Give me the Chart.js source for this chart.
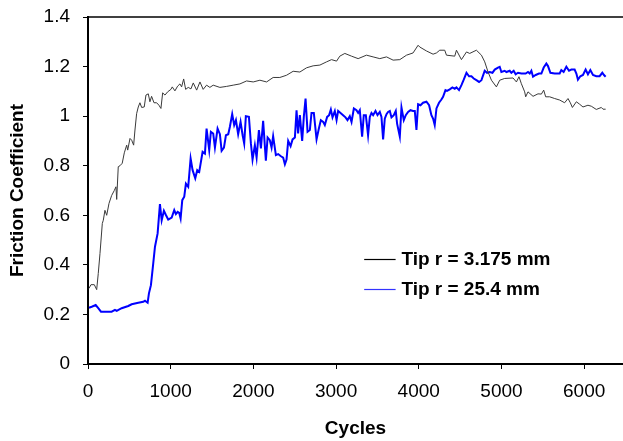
<!DOCTYPE html>
<html>
<head>
<meta charset="utf-8">
<title>Friction Coefficient vs Cycles</title>
<script src="https://cdn.jsdelivr.net/npm/chart.js@4/dist/chart.umd.min.js"></script>
<style>
  html, body { margin: 0; padding: 0; background: #ffffff; }
  #wrap { width: 623px; height: 441px; }
</style>
</head>
<body>
<div id="wrap"><canvas id="chart" width="623" height="441"></canvas></div>
<script>
// Tip radius 3.175 mm
const smallTipCycles = [12, 36, 76, 105, 124, 145, 173, 185, 205, 226, 254, 286, 318, 338, 347, 366, 387, 414, 439, 468,
  480, 508, 528, 552, 568, 588, 608, 628, 649, 680, 701, 729, 749, 769, 798, 830, 858, 882, 903, 931,
  963, 1003, 1019, 1051, 1084, 1112, 1132, 1157, 1181, 1212, 1245, 1273, 1314, 1354, 1393, 1434, 1474, 1514, 1595, 1676,
  1756, 1837, 1918, 1998, 2079, 2160, 2239, 2320, 2401, 2481, 2562, 2643, 2723, 2804, 2885, 2945, 3006, 3045, 3106, 3187,
  3267, 3368, 3448, 3529, 3610, 3690, 3771, 3852, 3931, 3992, 4012, 4093, 4173, 4214, 4254, 4314, 4335, 4435, 4456, 4516,
  4577, 4616, 4697, 4758, 4798, 4838, 4879, 4939, 4979, 5039, 5140, 5181, 5212, 5241, 5281, 5293, 5321, 5382, 5442, 5483,
  5511, 5535, 5583, 5644, 5704, 5764, 5805, 5833, 5858, 5906, 5946, 5986, 6046, 6087, 6147, 6208, 6228, 6260];
const smallTipFriction = [0.305, 0.32, 0.32, 0.30, 0.365, 0.446, 0.567, 0.58, 0.62, 0.60, 0.648, 0.68, 0.70, 0.715, 0.664, 0.796, 0.80, 0.81, 0.852, 0.883,
  0.863, 0.91, 0.903, 0.883, 0.944, 1.01, 1.037, 1.054, 1.035, 1.037, 1.085, 1.09, 1.058, 1.08, 1.054, 1.054, 1.044, 1.031, 1.094, 1.085,
  1.098, 1.108, 1.118, 1.102, 1.121, 1.13, 1.118, 1.15, 1.108, 1.116, 1.11, 1.134, 1.105, 1.138, 1.108, 1.125, 1.116, 1.125, 1.116, 1.12,
  1.125, 1.13, 1.142, 1.138, 1.145, 1.138, 1.156, 1.156, 1.165, 1.181, 1.178, 1.195, 1.203, 1.206, 1.219, 1.228, 1.222, 1.242, 1.253, 1.242,
  1.232, 1.246, 1.239, 1.232, 1.239, 1.226, 1.228, 1.246, 1.255, 1.286, 1.279, 1.263, 1.25, 1.255, 1.266, 1.266, 1.246, 1.242, 1.266, 1.228,
  1.259, 1.253, 1.266, 1.246, 1.219, 1.178, 1.145, 1.118, 1.145, 1.152, 1.154, 1.138, 1.159, 1.131, 1.098, 1.078, 1.098, 1.08, 1.09, 1.089,
  1.105, 1.078, 1.078, 1.071, 1.065, 1.054, 1.071, 1.054, 1.035, 1.058, 1.048, 1.037, 1.044, 1.04, 1.027, 1.035, 1.028, 1.028];

// Tip radius 25.4 mm
const largeTipCycles = [12, 45, 93, 124, 157, 205, 286, 326, 347, 407, 487, 528, 608, 668, 689, 721, 737, 761, 789, 810,
  842, 870, 891, 918, 939, 970, 1012, 1043, 1063, 1084, 1103, 1120, 1140, 1164, 1184, 1212, 1241, 1265, 1297, 1321,
  1345, 1386, 1414, 1434, 1466, 1486, 1514, 1535, 1567, 1595, 1616, 1644, 1668, 1696, 1716, 1744, 1768, 1789, 1816, 1845,
  1870, 1889, 1909, 1946, 1970, 1990, 2018, 2039, 2067, 2091, 2118, 2151, 2172, 2199, 2220, 2239, 2272, 2300, 2329, 2360,
  2381, 2401, 2421, 2450, 2474, 2502, 2522, 2541, 2562, 2590, 2610, 2631, 2655, 2683, 2703, 2731, 2764, 2792, 2816, 2844,
  2864, 2892, 2916, 2937, 2957, 2985, 3006, 3025, 3054, 3085, 3114, 3138, 3166, 3187, 3215, 3247, 3267, 3287, 3315, 3335,
  3360, 3387, 3408, 3428, 3448, 3477, 3501, 3529, 3549, 3569, 3589, 3610, 3629, 3650, 3670, 3698, 3722, 3738, 3771, 3791,
  3819, 3843, 3871, 3900, 3931, 3952, 3972, 3992, 4021, 4052, 4093, 4125, 4153, 4173, 4193, 4214, 4245, 4274, 4294, 4323,
  4342, 4375, 4407, 4435, 4456, 4487, 4516, 4544, 4577, 4608, 4637, 4665, 4697, 4729, 4758, 4798, 4826, 4858, 4891, 4919,
  4958, 4979, 4999, 5039, 5060, 5100, 5120, 5148, 5172, 5200, 5241, 5293, 5321, 5342, 5362, 5382, 5414, 5454, 5483, 5511,
  5543, 5563, 5592, 5644, 5704, 5724, 5752, 5785, 5817, 5845, 5885, 5906, 5925, 5954, 5986, 6018, 6046, 6075, 6107, 6147,
  6187, 6220, 6240, 6260];
const largeTipFriction = [0.227, 0.231, 0.238, 0.225, 0.211, 0.211, 0.211, 0.218, 0.214, 0.225, 0.234, 0.241, 0.247, 0.251, 0.255, 0.247, 0.285, 0.318, 0.406, 0.473,
  0.527, 0.645, 0.58, 0.618, 0.603, 0.583, 0.591, 0.621, 0.605, 0.614, 0.61, 0.587, 0.661, 0.675, 0.728, 0.715, 0.829, 0.782, 0.749, 0.782,
  0.775, 0.856, 0.849, 0.95, 0.863, 0.937, 0.93, 0.873, 0.95, 0.927, 0.86, 0.873, 0.923, 0.927, 0.957, 1.008, 0.964, 0.984, 0.927, 0.977,
  0.923, 0.89, 1.0, 0.997, 0.89, 0.825, 0.883, 0.833, 0.944, 0.87, 0.981, 0.82, 0.914, 0.903, 0.873, 0.919, 0.843, 0.847, 0.839, 0.833,
  0.806, 0.825, 0.9, 0.879, 0.906, 0.914, 1.024, 0.93, 1.004, 0.9, 0.997, 1.071, 0.937, 0.944, 1.013, 1.013, 0.906, 0.95, 0.984, 0.977,
  0.964, 0.997, 1.004, 1.027, 0.995, 1.021, 0.984, 1.021, 1.013, 1.004, 0.995, 0.984, 1.0, 0.977, 1.031, 1.024, 1.013, 1.024, 0.917, 1.004,
  1.004, 0.923, 0.997, 1.013, 1.004, 1.021, 1.004, 1.017, 0.997, 0.906, 0.99, 1.008, 1.017, 1.021, 0.995, 1.004, 1.021, 0.97, 0.917, 1.035,
  0.984, 1.004, 1.017, 1.024, 1.021, 1.021, 0.944, 1.048, 1.044, 1.054, 1.058, 1.044, 1.004, 0.99, 0.964, 1.031, 1.054, 1.067, 1.078, 1.105,
  1.102, 1.108, 1.116, 1.11, 1.116, 1.105, 1.125, 1.147, 1.175, 1.161, 1.161, 1.152, 1.145, 1.138, 1.145, 1.183, 1.175, 1.178, 1.175, 1.188,
  1.196, 1.199, 1.178, 1.183, 1.178, 1.183, 1.175, 1.183, 1.169, 1.175, 1.172, 1.172, 1.178, 1.172, 1.183, 1.159, 1.166, 1.172, 1.172, 1.196,
  1.212, 1.202, 1.175, 1.172, 1.172, 1.186, 1.178, 1.199, 1.183, 1.188, 1.188, 1.172, 1.147, 1.161, 1.166, 1.188, 1.169, 1.186, 1.166, 1.161,
  1.161, 1.175, 1.166, 1.159];

const seriesLabels = ['Tip r = 3.175 mm', 'Tip r = 25.4 mm'];
const seriesColors = ['#3a3a3a', '#0000ff'];
const legendLineColors = ['#000000', '#3333ff'];
const xTickValues = [0, 1000, 2000, 3000, 4000, 5000, 6000];
const yTickValues = [0, 0.2, 0.4, 0.6, 0.8, 1, 1.2, 1.4];

function toPoints(xs, ys) {
  return xs.map((x, i) => ({ x: x, y: ys[i] }));
}

const FONT = "'Liberation Sans', Arial, Helvetica, sans-serif";

// Frame line along the top of the plot area and the in-plot legend
const framePlugin = {
  id: 'frameAndLegend',
  afterDraw(chart) {
    const ctx = chart.ctx;
    const area = chart.chartArea;
    ctx.save();
    ctx.strokeStyle = '#000000';
    ctx.lineWidth = 1.5;
    ctx.beginPath();
    ctx.moveTo(area.left, area.top);
    ctx.lineTo(area.right, area.top);
    ctx.stroke();

    const xs = chart.scales.x;
    const ys = chart.scales.y;
    const lineX0 = xs.getPixelForValue(3340);
    const lineX1 = xs.getPixelForValue(3720);
    const textX = xs.getPixelForValue(3790);
    const rows = [ys.getPixelForValue(0.424), ys.getPixelForValue(0.303)];
    ctx.font = 'bold 19px ' + FONT;
    ctx.textBaseline = 'middle';
    ctx.textAlign = 'left';
    ctx.fillStyle = '#000000';
    rows.forEach((y, i) => {
      ctx.strokeStyle = legendLineColors[i];
      ctx.lineWidth = 1.2;
      ctx.beginPath();
      ctx.moveTo(lineX0, Math.round(y) + 0.5);
      ctx.lineTo(lineX1, Math.round(y) + 0.5);
      ctx.stroke();
      ctx.fillText(seriesLabels[i], textX, y + 1);
    });
    ctx.restore();
  }
};

const whiteBackground = {
  id: 'whiteBackground',
  beforeDraw(chart) {
    const ctx = chart.ctx;
    ctx.save();
    ctx.fillStyle = '#ffffff';
    ctx.fillRect(0, 0, chart.width, chart.height);
    ctx.restore();
  }
};

new Chart(document.getElementById('chart'), {
  type: 'line',
  data: {
    datasets: [
      {
        label: seriesLabels[0],
        data: toPoints(smallTipCycles, smallTipFriction),
        borderColor: seriesColors[0],
        borderWidth: 1,
        pointRadius: 0,
        tension: 0,
        fill: false
      },
      {
        label: seriesLabels[1],
        data: toPoints(largeTipCycles, largeTipFriction),
        borderColor: seriesColors[1],
        borderWidth: 2,
        pointRadius: 0,
        tension: 0,
        fill: false
      }
    ]
  },
  options: {
    responsive: false,
    animation: false,
    devicePixelRatio: 1,
    layout: { padding: { top: 17, right: 0, bottom: 0, left: 0 } },
    plugins: {
      legend: { display: false },
      tooltip: { enabled: false }
    },
    scales: {
      x: {
        type: 'linear',
        min: 0,
        max: 6470,
        afterBuildTicks(scale) { scale.ticks = xTickValues.map(v => ({ value: v })); },
        afterFit(scale) {
          scale.height = 77;
          scale.paddingLeft = 0;
          scale.paddingRight = 0;
        },
        grid: { display: true, drawOnChartArea: false, drawTicks: true, tickLength: 5, color: '#000000', tickWidth: 1 },
        border: { display: true, color: '#000000', width: 2 },
        ticks: {
          color: '#000000',
          font: { family: FONT, size: 19 },
          padding: 11,
          maxRotation: 0,
          callback: v => String(v)
        },
        title: {
          display: true,
          text: 'Cycles',
          color: '#000000',
          font: { family: FONT, size: 19, weight: 'bold' },
          padding: { top: 0, bottom: 1 }
        }
      },
      y: {
        type: 'linear',
        min: 0,
        max: 1.4,
        afterBuildTicks(scale) { scale.ticks = yTickValues.map(v => ({ value: v })); },
        afterFit(scale) {
          scale.width = 88;
          scale.paddingTop = 0;
          scale.paddingBottom = 0;
        },
        grid: { display: true, drawOnChartArea: false, drawTicks: true, tickLength: 5, color: '#000000', tickWidth: 1 },
        border: { display: true, color: '#000000', width: 2 },
        ticks: {
          color: '#000000',
          font: { family: FONT, size: 19 },
          padding: 13,
          callback: v => String(Math.round(v * 10) / 10)
        },
        title: {
          display: true,
          text: 'Friction Coefficient',
          color: '#000000',
          font: { family: FONT, size: 19, weight: 'bold' },
          padding: { top: 6, bottom: 0 }
        }
      }
    }
  },
  plugins: [whiteBackground, framePlugin]
});
</script>
</body>
</html>
